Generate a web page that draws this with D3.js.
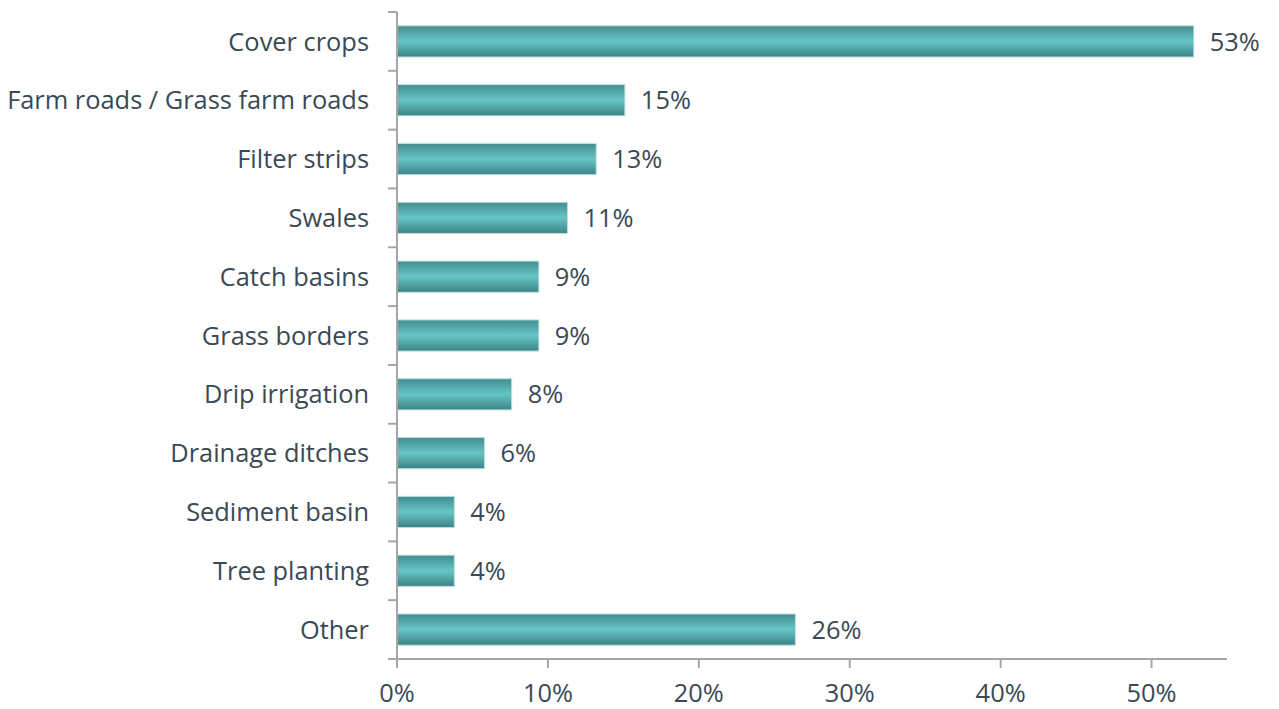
<!DOCTYPE html>
<html>
<head>
<meta charset="utf-8">
<script src="https://cdn.jsdelivr.net/npm/d3@7"></script>
<style>
  html, body { margin: 0; padding: 0; background: #ffffff; }
  svg text { font-family: "Open Sans", sans-serif; fill: #3a4956; }
</style>
</head>
<body>
<svg id="chart" width="1279" height="709"></svg>
<script>
// Share of respondents using each conservation practice
const categories = [
  "Cover crops", "Farm roads / Grass farm roads", "Filter strips", "Swales",
  "Catch basins", "Grass borders", "Drip irrigation", "Drainage ditches",
  "Sediment basin", "Tree planting", "Other"
];
const values = [52.8, 15.1, 13.2, 11.3, 9.4, 9.4, 7.6, 5.8, 3.8, 3.8, 26.4];
const xTicks = [0, 10, 20, 30, 40, 50];

const margin = { top: 12, right: 52, bottom: 50, left: 397 };
const width = 1279, height = 709;
const fontSize = 25.4;

const svg = d3.select("#chart");

const x = d3.scaleLinear().domain([0, 55]).range([margin.left, width - margin.right]);
const y = d3.scaleBand().domain(categories).range([margin.top, height - margin.bottom])
  .paddingInner(0.47).paddingOuter(0.235);

// vertical shading on the bars
const defs = svg.append("defs");
const grad = defs.append("linearGradient").attr("id", "barShade")
  .attr("x1", 0).attr("y1", 0).attr("x2", 0).attr("y2", 1);
grad.append("stop").attr("offset", "0%").attr("stop-color", "#438d8f");
grad.append("stop").attr("offset", "50%").attr("stop-color", "#66c5c6");
grad.append("stop").attr("offset", "100%").attr("stop-color", "#3c8385");

svg.append("g").selectAll("rect").data(values).join("rect")
  .attr("x", x(0))
  .attr("y", (d, i) => y(categories[i]))
  .attr("width", d => x(d) - x(0))
  .attr("height", y.bandwidth())
  .attr("fill", "url(#barShade)")
  .attr("stroke", "#b9e0e0")
  .attr("stroke-width", 1);

// value labels
svg.append("g").selectAll("text").data(values).join("text")
  .attr("x", d => x(d) + 16)
  .attr("y", (d, i) => y(categories[i]) + y.bandwidth() / 2)
  .attr("dy", "0.36em")
  .attr("font-size", fontSize)
  .text(d => Math.round(d) + "%");

// y axis: line with ticks between categories
const axisColor = "#a6a6a6";
const step = y.step();
const yAxis = svg.append("g");
yAxis.append("line")
  .attr("x1", x(0)).attr("x2", x(0))
  .attr("y1", margin.top).attr("y2", height - margin.bottom)
  .attr("stroke", axisColor).attr("stroke-width", 2);
const boundaries = d3.range(categories.length + 1).map(i => margin.top + i * step);
yAxis.selectAll("line.tick").data(boundaries).join("line")
  .attr("class", "tick")
  .attr("x1", x(0) - 9).attr("x2", x(0))
  .attr("y1", d => d).attr("y2", d => d)
  .attr("stroke", axisColor).attr("stroke-width", 2);
yAxis.selectAll("text").data(categories).join("text")
  .attr("x", x(0) - 28)
  .attr("y", d => y(d) + y.bandwidth() / 2)
  .attr("dy", "0.36em")
  .attr("text-anchor", "end")
  .attr("font-size", fontSize)
  .text(d => d);

// x axis
const xAxisY = height - margin.bottom;
const xAxis = svg.append("g");
xAxis.append("line")
  .attr("x1", x(0)).attr("x2", x(55))
  .attr("y1", xAxisY).attr("y2", xAxisY)
  .attr("stroke", axisColor).attr("stroke-width", 2);
xAxis.selectAll("line.tick").data(xTicks).join("line")
  .attr("class", "tick")
  .attr("x1", d => x(d)).attr("x2", d => x(d))
  .attr("y1", xAxisY).attr("y2", xAxisY + 9)
  .attr("stroke", axisColor).attr("stroke-width", 2);
xAxis.selectAll("text").data(xTicks).join("text")
  .attr("x", d => x(d))
  .attr("y", xAxisY + 43)
  .attr("text-anchor", "middle")
  .attr("font-size", fontSize)
  .text(d => d + "%");
</script>
</body>
</html>
